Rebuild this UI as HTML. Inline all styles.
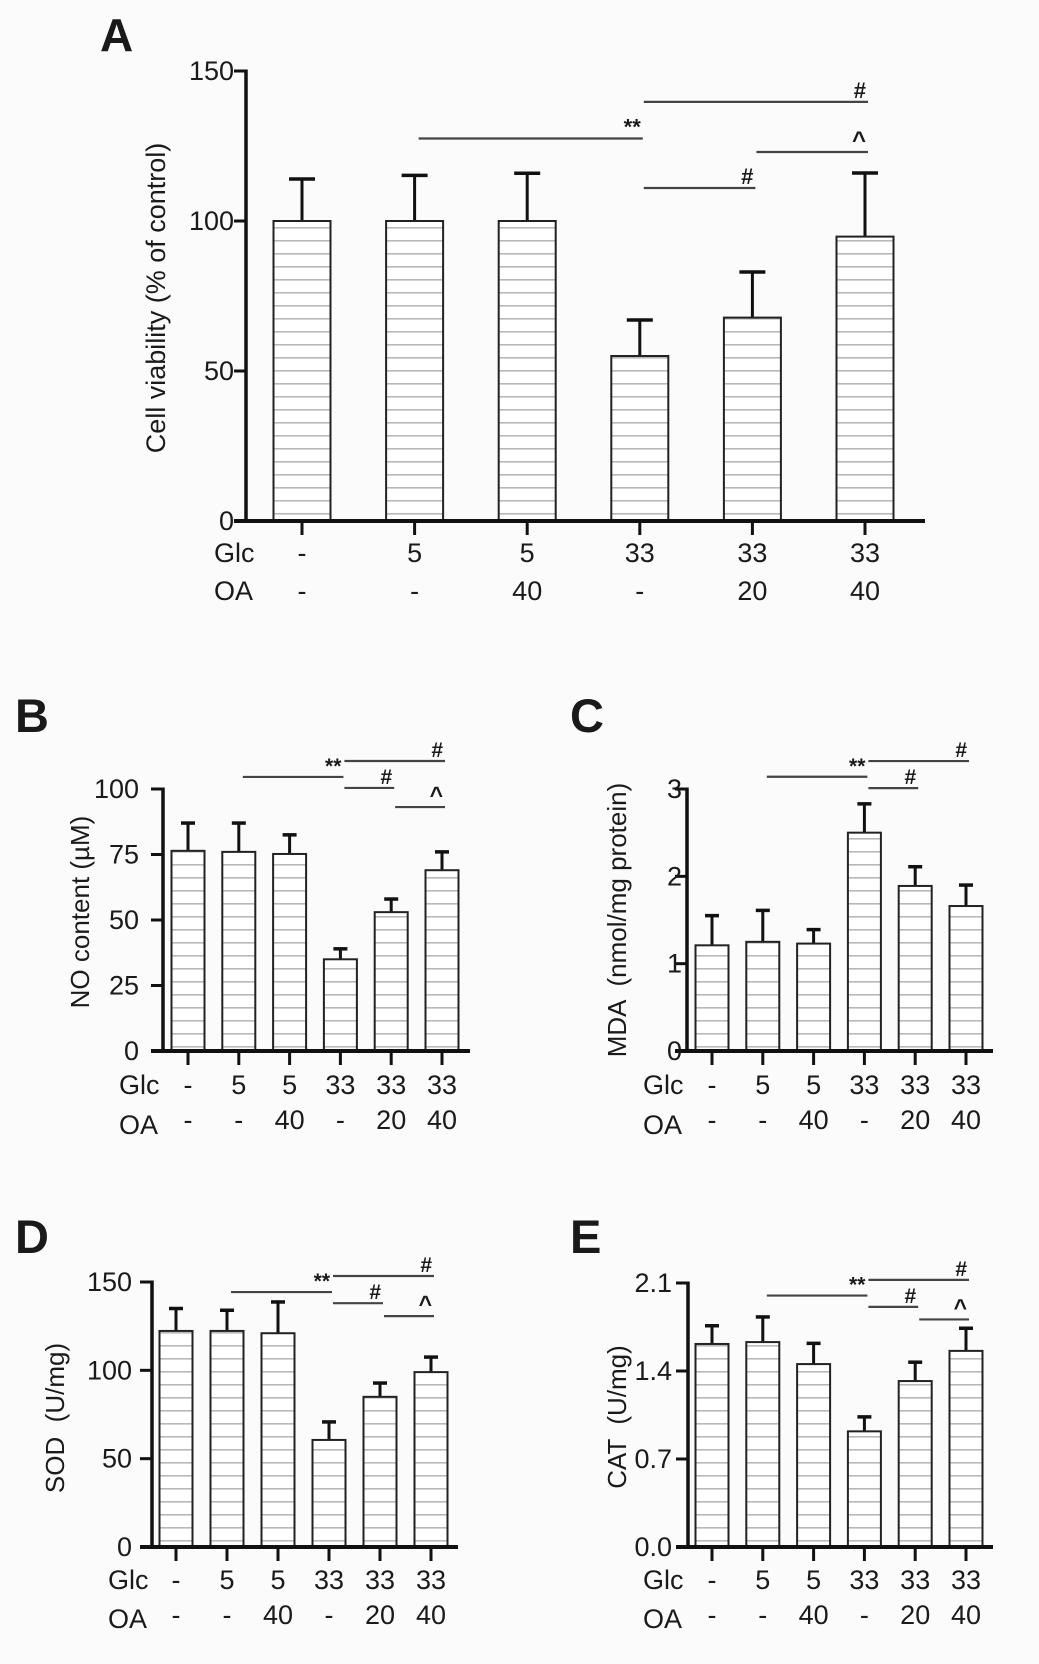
<!DOCTYPE html>
<html><head><meta charset="utf-8">
<style>
html,body{margin:0;padding:0;background:#fbfbfb;}
svg{display:block;}
text{font-family:"Liberation Sans",Arial,sans-serif;fill:#1a1a1a;}
</style></head>
<body>
<svg id="fig" width="1039" height="1664" viewBox="0 0 1039 1664" xmlns="http://www.w3.org/2000/svg">
<defs>
<pattern id="hatch" patternUnits="userSpaceOnUse" width="8" height="13">
<rect x="0" y="0" width="8" height="13" fill="#ffffff"/>
<rect x="0" y="6" width="8" height="1.6" fill="#b8b8b8"/>
</pattern>
</defs>
</svg>
<script>
// Shared categories
const glcLabels = ["-","5","5","33","33","33"];
const oaLabels  = ["-","-","40","-","20","40"];

// Panel A: cell viability
const aValues = [100, 100, 100, 55, 67.8, 94.8];
const aErrors = [14, 15.2, 15.9, 12, 15.2, 21.2];
const aTicks  = [0, 50, 100, 150];
const aSig = [[1,3,127.5,"**"],[3,5,139.7,"#"],[4,5,123,"^"],[3,4,111,"#"]];

// Panel B: NO content
const bValues = [76.4, 76, 75.2, 35, 53, 69];
const bErrors = [10.6, 11, 7.3, 4, 5, 7];
const bTicks  = [0, 25, 50, 75, 100];
const bSig = [[1,3,104.6,"**"],[3,5,110.7,"#"],[3,4,100.4,"#"],[4,5,93.1,"^"]];

// Panel C: MDA
const cValues = [1.21, 1.25, 1.23, 2.5, 1.89, 1.66];
const cErrors = [0.34, 0.36, 0.16, 0.33, 0.22, 0.24];
const cTicks  = [0, 1, 2, 3];
const cSig = [[1,3,3.14,"**"],[3,5,3.32,"#"],[3,4,3.01,"#"]];

// Panel D: SOD
const dValues = [122.3, 122.3, 121, 60.6, 85, 99];
const dErrors = [12.7, 11.7, 17.7, 10.2, 7.8, 8.5];
const dTicks  = [0, 50, 100, 150];
const dSig = [[1,3,144.3,"**"],[3,5,153.4,"#"],[3,4,138,"#"],[4,5,130.7,"^"]];

// Panel E: CAT
const eValues = [1.615, 1.63, 1.455, 0.92, 1.32, 1.56];
const eErrors = [0.145, 0.2, 0.165, 0.115, 0.15, 0.18];
const eTicks  = [0.0, 0.7, 1.4, 2.1];
const eTickText = ["0.0","0.7","1.4","2.1"];
const eSig = [[1,3,2.0,"**"],[3,5,2.125,"#"],[3,4,1.91,"#"],[4,5,1.81,"^"]];

const NS = "http://www.w3.org/2000/svg";
const svg = document.getElementById("fig");
function mk(tag, attrs, parent){
  const e = document.createElementNS(NS, tag);
  for (const k in attrs) e.setAttribute(k, attrs[k]);
  (parent||svg).appendChild(e);
  return e;
}

function panel(p){
  const g = mk("g", {});
  
  
  const yScale = v => p.y0 - (v - p.min) / (p.max - p.min) * (p.y0 - p.yTop);
  const xScale = i => p.c0 + i * p.step;

  const L = mk("text", {x:p.lx, y:p.ly, "font-size":p.lfs, "font-weight":"bold"}, g);
  L.textContent = p.letter;
  
  

  p.values.forEach((v,i)=>{
    const cx = xScale(i), top = yScale(v), et = yScale(v + p.errors[i]);
    const el = mk("line", {x1:cx, x2:cx, y1:top, y2:et, stroke:"#111", "stroke-width":3}, g);
    
    
    const cap = mk("line", {x1:cx-p.cap/2, x2:cx+p.cap/2, y1:et, y2:et, stroke:"#111", "stroke-width":3.5}, g);
    
    
    const r = mk("rect", {x:cx-p.bw/2, y:top, width:p.bw, height:p.y0-top, fill:"url(#hatch)", stroke:"#222", "stroke-width":2}, g);
    
    
    const t = mk("line", {x1:cx, x2:cx, y1:p.y0, y2:p.y0+14, stroke:"#111", "stroke-width":3}, g);
    
    
    const gl = mk("text", {x:cx, y:p.glcY, "font-size":p.fs2, "text-anchor":"middle", "dominant-baseline":"central"}, g);
    gl.textContent = glcLabels[i];
    
    
    const ol = mk("text", {x:cx, y:p.oaY, "font-size":p.fs2, "text-anchor":"middle", "dominant-baseline":"central"}, g);
    ol.textContent = oaLabels[i];
    
    
  });

  const ya = mk("line", {x1:p.x0, x2:p.x0, y1:p.yTop-1.5, y2:p.y0+1.5, stroke:"#111", "stroke-width":3.5}, g);
  
  
  const xa = mk("line", {x1:p.x0-12, x2:p.x1, y1:p.y0, y2:p.y0, stroke:"#111", "stroke-width":4}, g);
  
  
  p.ticks.forEach((tv,k)=>{
    const y = yScale(tv);
    const tk = mk("line", {x1:p.x0-12, x2:p.x0, y1:y, y2:y, stroke:"#111", "stroke-width":3}, g);
    
    
    const tl = mk("text", {x:p.x0-p.tlOff, y:y, "font-size":p.fs, "text-anchor":"end", "dominant-baseline":"central", fill:"#333"}, g);
    tl.textContent = p.tickText ? p.tickText[k] : String(tv);
    
    
  });

  const gL = mk("text", {x:p.rlx, y:p.glcY, "font-size":p.fs2, "dominant-baseline":"central"}, g);
  gL.textContent = "Glc";
  
  
  const oL = mk("text", {x:p.rlx, y:p.oaY + (p.oaShift||0), "font-size":p.fs2, "dominant-baseline":"central"}, g);
  oL.textContent = "OA";
  
  

  const yt = mk("text", {x:0, y:0, "font-size":p.tfs, "text-anchor":"middle", "dominant-baseline":"central", fill:"#333",
    transform:"translate("+p.tx+","+p.ty+") rotate(-90)"}, g);
  yt.textContent = p.title;
  yt.style.whiteSpace = "pre";
  
  

  p.sig.forEach((s,k)=>{
    const xa1 = xScale(s[0]) + 4, xb = xScale(s[1]) + 3, y = yScale(s[2]);
    const ln = mk("line", {x1:xa1, x2:xb, y1:y, y2:y, stroke:"#444", "stroke-width":2.2}, g);
    
    
    const st = mk("text", {x:xb-2, y:y-4, "font-size": s[3]==="^" ? p.sfs+2 : p.sfs, "font-weight":"bold", "text-anchor":"end", fill:"#333"}, g);
    st.textContent = s[3];
    
    
  });
}

panel({id:"a", letter:"A", lx:100, ly:51, lfs:46, values:aValues, errors:aErrors, ticks:aTicks, sig:aSig,
  min:0, max:150, x0:246, x1:925, yTop:71, y0:521, c0:302, step:112.6, bw:57, cap:26,
  glcY:553, oaY:591, rlx:214, fs:27, fs2:27, tlOff:12, tfs:27, tx:156, ty:298,
  title:"Cell viability (% of control)", sfs:22});
panel({id:"b", letter:"B", lx:15, ly:732, lfs:47, values:bValues, errors:bErrors, ticks:bTicks, sig:bSig,
  min:0, max:100, x0:163, x1:470, yTop:789, y0:1051, c0:188, step:50.8, bw:33, cap:14,
  glcY:1085, oaY:1120, oaShift:5, rlx:119, fs:27, fs2:27, tlOff:24, tfs:26, tx:80, ty:912,
  title:"NO content (\u00b5M)", sfs:21});
panel({id:"c", letter:"C", lx:570, ly:732, lfs:47, values:cValues, errors:cErrors, ticks:cTicks, sig:cSig,
  min:0, max:3, x0:687, x1:993, yTop:789, y0:1051, c0:712, step:50.8, bw:33, cap:14,
  glcY:1085, oaY:1120, oaShift:5, rlx:643, fs:27, fs2:27, tlOff:5, tfs:26, tx:617, ty:920,
  title:"MDA  (nmol/mg protein)", sfs:21});
panel({id:"d", letter:"D", lx:15, ly:1253, lfs:47, values:dValues, errors:dErrors, ticks:dTicks, sig:dSig,
  min:0, max:150, x0:152, x1:458, yTop:1282, y0:1547, c0:176, step:51, bw:33, cap:14,
  glcY:1580, oaY:1615, oaShift:4, rlx:108, fs:27, fs2:27, tlOff:20, tfs:26, tx:55, ty:1418,
  title:"SOD  (U/mg)", sfs:21});
panel({id:"e", letter:"E", lx:570, ly:1253, lfs:47, values:eValues, errors:eErrors, ticks:eTicks, tickText:eTickText, sig:eSig,
  min:0, max:2.1, x0:688, x1:993, yTop:1283, y0:1547, c0:712, step:50.8, bw:33, cap:14,
  glcY:1580, oaY:1615, oaShift:4, rlx:643, fs:27, fs2:27, tlOff:16, tfs:26, tx:617, ty:1417,
  title:"CAT  (U/mg)", sfs:21});
</script>
</body></html>
